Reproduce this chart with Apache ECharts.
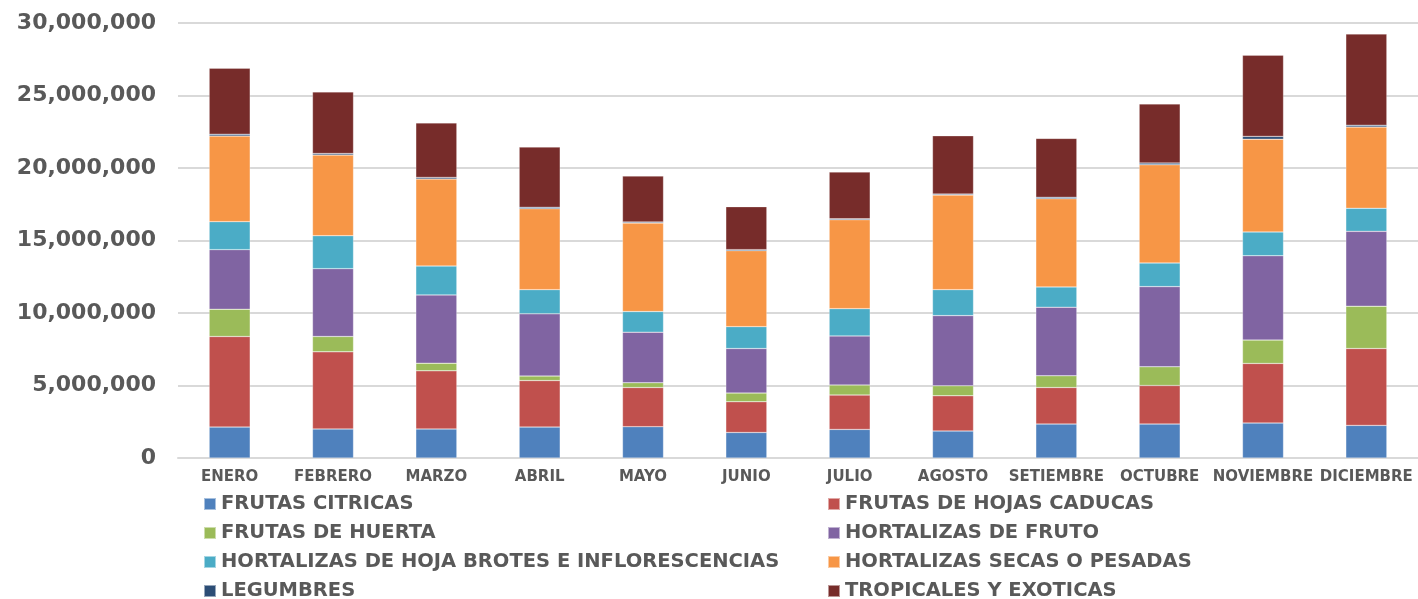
<!DOCTYPE html>
<html>
<head>
<meta charset="utf-8">
<script src="https://cdn.jsdelivr.net/npm/echarts@6/dist/echarts.min.js"></script>
<style>
  html, body { margin: 0; padding: 0; background: #fff; }
  #chart { width: 1418px; height: 599px; }
</style>
</head>
<body>
<div id="chart"></div>
<script>
// months on the x axis
const months = ["ENERO", "FEBRERO", "MARZO", "ABRIL", "MAYO", "JUNIO", "JULIO",
  "AGOSTO", "SETIEMBRE", "OCTUBRE", "NOVIEMBRE", "DICIEMBRE"];

// values per group
const frutasCitricas = [2130000, 2000000, 2000000, 2130000, 2160000, 1760000, 1970000, 1860000, 2340000, 2340000, 2410000, 2250000];
const frutasCaducas = [6250000, 5320000, 4010000, 3210000, 2700000, 2120000, 2370000, 2430000, 2520000, 2660000, 4110000, 5300000];
const frutasHuerta = [1880000, 1060000, 530000, 310000, 330000, 600000, 690000, 690000, 810000, 1290000, 1610000, 2920000];
const hortalizasFruto = [4110000, 4680000, 4710000, 4290000, 3490000, 3070000, 3390000, 4840000, 4730000, 5530000, 5820000, 5160000];
const hortalizasHoja = [1930000, 2270000, 1990000, 1670000, 1420000, 1510000, 1880000, 1790000, 1400000, 1630000, 1640000, 1590000];
const hortalizasSecas = [5900000, 5560000, 6000000, 5580000, 6100000, 5240000, 6130000, 6520000, 6080000, 6770000, 6400000, 5600000];
const legumbres = [130000, 110000, 110000, 100000, 80000, 70000, 70000, 70000, 100000, 120000, 190000, 130000];
const tropicales = [4550000, 4250000, 3760000, 4150000, 3160000, 2960000, 3220000, 4020000, 4060000, 4080000, 5600000, 6290000];

const yTicks = { min: 0, max: 30000000, interval: 5000000 };

const groups = [
  { name: "FRUTAS CITRICAS", data: frutasCitricas, color: "#4F81BD" },
  { name: "FRUTAS DE HOJAS CADUCAS", data: frutasCaducas, color: "#C0504D" },
  { name: "FRUTAS DE HUERTA", data: frutasHuerta, color: "#9BBB59" },
  { name: "HORTALIZAS DE FRUTO", data: hortalizasFruto, color: "#8064A2" },
  { name: "HORTALIZAS DE HOJA BROTES E INFLORESCENCIAS", data: hortalizasHoja, color: "#4BACC6" },
  { name: "HORTALIZAS SECAS O PESADAS", data: hortalizasSecas, color: "#F79646" },
  { name: "LEGUMBRES", data: legumbres, color: "#2C4D75" },
  { name: "TROPICALES Y EXOTICAS", data: tropicales, color: "#772C2A" }
];

const font = "DejaVu Sans";
const textColor = "#595959";

const chart = echarts.init(document.getElementById("chart"));

const legendCommon = {
  orient: "vertical",
  top: 494,
  height: 120,
  padding: 0,
  itemWidth: 12,
  itemHeight: 12,
  itemGap: 9,
  icon: "rect",
  textStyle: { fontFamily: font, fontWeight: "bold", fontSize: 19.5, lineHeight: 20, color: textColor }
};

const option = {
  animation: false,
  grid: { left: 178, right: 0, top: 23, bottom: 141 },
  legend: [
    { ...legendCommon, left: 203, data: groups.filter((g, i) => i % 2 === 0).map(g => g.name) },
    { ...legendCommon, left: 827, data: groups.filter((g, i) => i % 2 === 1).map(g => g.name) }
  ],
  xAxis: {
    type: "category",
    data: months,
    axisLine: { lineStyle: { color: "#D9D9D9", width: 2 } },
    axisTick: { show: false },
    axisLabel: { fontFamily: font, fontWeight: "bold", fontSize: 15, color: textColor, margin: 12, interval: 0 }
  },
  yAxis: {
    type: "value",
    ...yTicks,
    axisLine: { show: false },
    axisTick: { show: false },
    splitLine: { lineStyle: { color: "#D9D9D9", width: 2 } },
    axisLabel: {
      fontFamily: font, fontWeight: "bold", fontSize: 22, color: textColor, margin: 22,
      formatter: v => v.toLocaleString("en-US")
    }
  },
  series: groups.map(g => ({
    name: g.name,
    type: "bar",
    stack: "total",
    barWidth: 41,
    data: g.data,
    itemStyle: { color: g.color, borderColor: "rgba(255,255,255,0.5)", borderWidth: 0.5 }
  }))
};

chart.setOption(option);
</script>
</body>
</html>
